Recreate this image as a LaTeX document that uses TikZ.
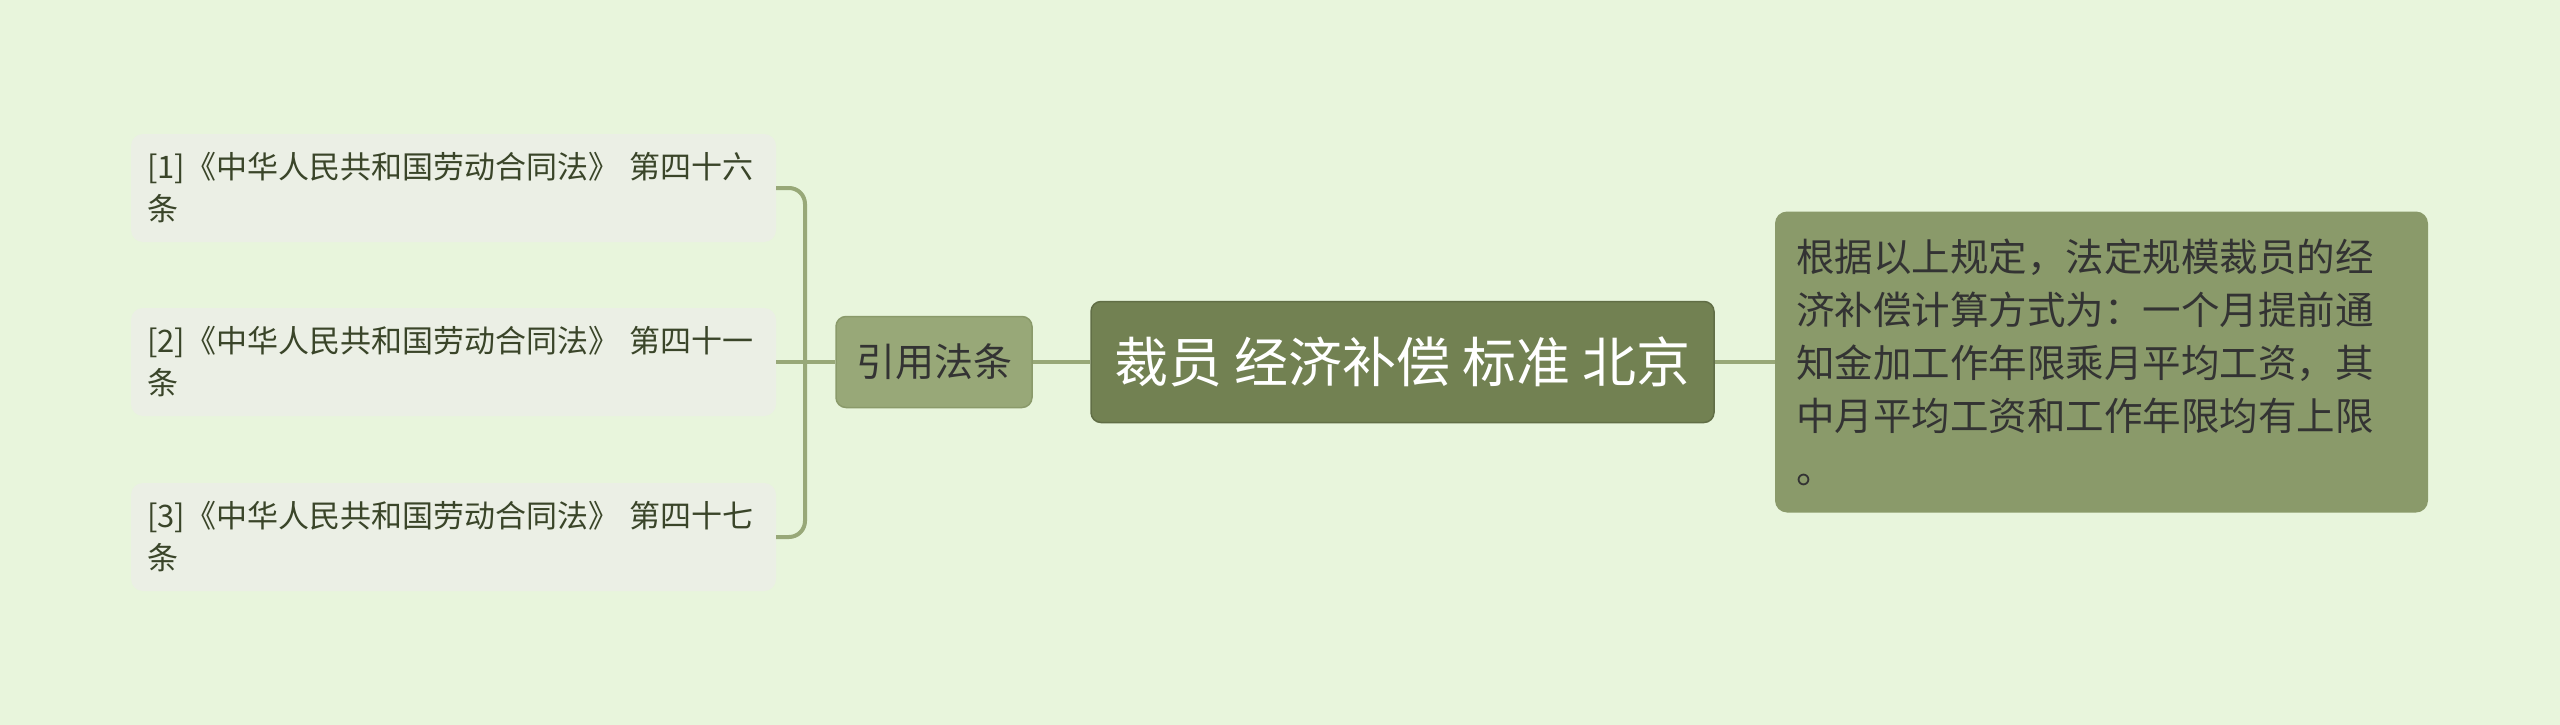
\documentclass[tikz,border=0pt]{standalone}
\usepackage{fontspec}
\setmainfont{Noto Sans CJK SC}
\definecolor{bgcol}{HTML}{E8F5DC}
\definecolor{leafcol}{HTML}{EBEFE5}
\definecolor{leaftext}{HTML}{3A4529}
\definecolor{subcol}{HTML}{98A878}
\definecolor{rootcol}{HTML}{728152}
\definecolor{notecol}{HTML}{8A9A6A}
\definecolor{linecol}{HTML}{98A878}
\begin{document}
\begin{tikzpicture}[x=1pt,y=-1pt]
	% Draw the styles
	\tikzset{leaf/.style={rectangle,rounded corners=12pt,fill=leafcol,text=leaftext,
			minimum width=645pt,minimum height=108pt,text width=613pt,inner xsep=16pt,
			align=left,font=\fontsize{31}{42}\selectfont}}
	\tikzset{subbox/.style={rectangle,rounded corners=10pt,fill=subcol,draw=notecol,line width=1.5pt,
			text=black!80,minimum width=196pt,minimum height=91pt,font=\fontsize{39}{46}\selectfont}}
	\tikzset{rootbox/.style={rectangle,rounded corners=10pt,fill=rootcol,draw=rootcol!85!black,line width=1.5pt,
			text=white,minimum width=623pt,minimum height=121pt,font=\fontsize{54}{60}\selectfont}}
	\tikzset{notebox/.style={rectangle,rounded corners=12pt,fill=notecol,text=black!80,
			minimum height=301pt,text width=611pt,inner xsep=21pt,align=left,
			font=\fontsize{38.5}{53}\selectfont}}
	\tikzset{link/.style={draw=linecol,line width=4pt}}
	
	% draw background
	\fill[bgcol] (0,0) rectangle (2560,725);
	\useasboundingbox (0,0) rectangle (2560,725);
	
	% the nodes
	\node[leaf] (law1) at (453.5,188) {[1]《中华人民共和国劳动合同法》 第四十六\\条};
	\node[leaf] (law2) at (453.5,362) {[2]《中华人民共和国劳动合同法》 第四十一\\条};
	\node[leaf] (law3) at (453.5,537) {[3]《中华人民共和国劳动合同法》 第四十七\\条};
	\node[subbox] (sub) at (934,362) {引用法条};
	\node[rootbox] (root) at (1402.5,362) {裁员 经济补偿 标准 北京};
	\node[notebox] (note) at (2101.5,362) {根据以上规定，法定规模裁员的经\\济补偿计算方式为：一个月提前通\\知金加工作年限乘月平均工资，其\\中月平均工资和工作年限均有上限\\。};
	
	% draw connectors
	\coordinate (fork) at (805,362);
	\draw[link,rounded corners=16pt] (law1.east) -| (fork) |- (law3.east);
	\draw[link] (law2.east) -- (sub.west);
	\draw[link] (sub.east) -- (root.west);
	\draw[link] (root.east) -- (note.west);
\end{tikzpicture}
\end{document}
